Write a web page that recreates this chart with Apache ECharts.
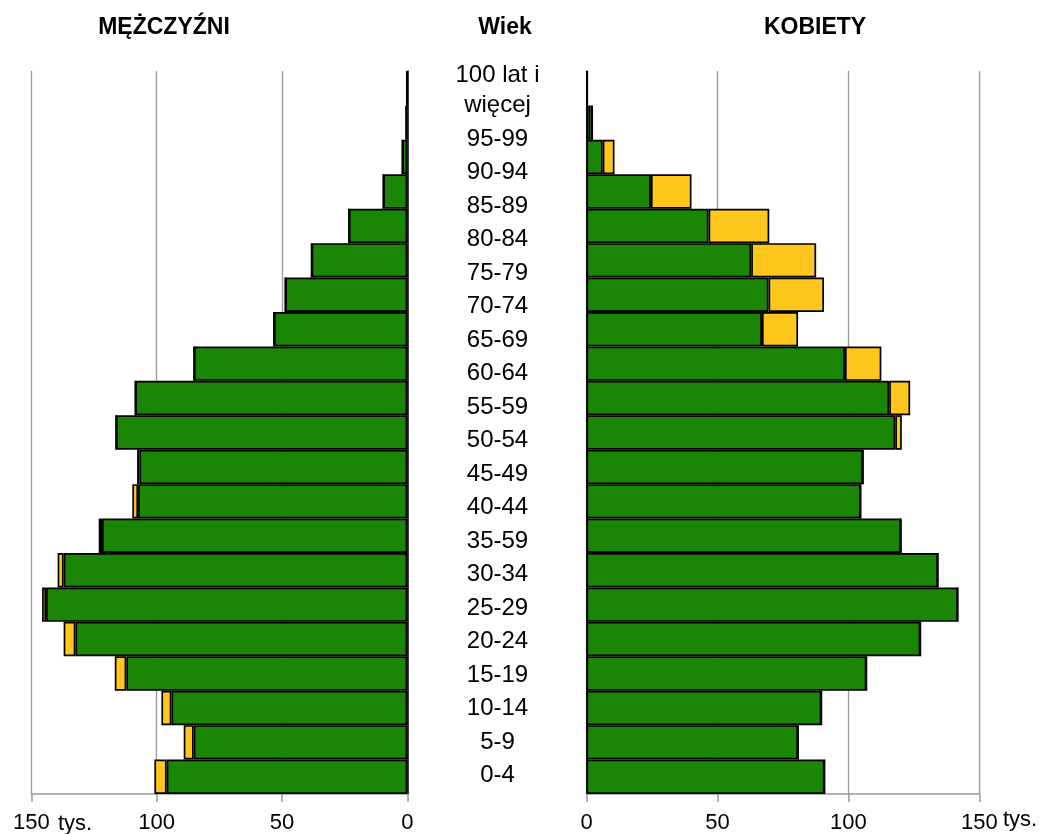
<!DOCTYPE html>
<html>
<head>
<meta charset="utf-8">
<script src="https://cdn.jsdelivr.net/npm/echarts/dist/echarts.min.js"></script>
<style>html,body{margin:0;padding:0;background:#fff}#c{width:1048px;height:834px}</style>
</head>
<body>
<div id="c"></div>
<script>
// Age groups, bottom to top (label "35-59" kept as printed in the source)
const categories = ['0-4','5-9','10-14','15-19','20-24','25-29','30-34','35-59','40-44','45-49','50-54','55-59','60-64','65-69','70-74','75-79','80-84','85-89','90-94','95-99','100 lat i\nwięcej'];
// Men (thousands): green part and yellow part
const menMain  = [96.0, 85.2, 94.1, 112.1, 132.4, 144.1, 137.1, 121.8, 107.4, 106.9, 116.2, 108.5, 85.1, 53.2, 48.7, 38.2, 23.3, 9.6, 2.0, 0.5, 0.2];
const menExtra = [4.9, 4.0, 4.0, 4.6, 4.7, 1.6, 2.4, 1.3, 2.3, 0.9, 0, 0, 0, 0, 0, 0, 0, 0, 0, 0, 0];
// Women (thousands): green part and yellow part
const womenMain  = [90.9, 80.8, 89.7, 106.9, 127.5, 141.8, 134.2, 120.1, 104.7, 105.6, 117.9, 115.6, 98.7, 67.0, 69.5, 62.9, 46.6, 24.6, 6.2, 1.5, 0.3];
const womenExtra = [0, 0, 0, 0, 0, 0, 0, 0, 0, 0, 2.5, 8.0, 13.9, 13.8, 21.2, 24.8, 23.2, 15.5, 4.5, 1.0, 0];
const tickValues = [0, 50, 100, 150];
const headers = ['MĘŻCZYŹNI', 'Wiek', 'KOBIETY'];
const unitLabel = 'tys.';

const GREEN = '#1b8505', YELLOW = '#ffc61e';
const FONT = '"Liberation Sans", Arial, sans-serif';

const chart = echarts.init(document.getElementById('c'), null, {renderer: 'canvas'});

const barStyle = c => ({color: c, borderColor: '#000', borderWidth: 1.7});
const valAxis = (gi, inverse) => ({
  type: 'value', gridIndex: gi, inverse: inverse,
  min: tickValues[0], max: tickValues[tickValues.length - 1], interval: tickValues[1] - tickValues[0],
  axisLine: {show: true, onZero: false, lineStyle: {color: '#999', width: 1.5}},
  axisTick: {show: true, length: 8, lineStyle: {color: '#999', width: 1.5}},
  axisLabel: {color: '#000', fontSize: 22, fontFamily: FONT, margin: 18},
  splitLine: {show: true, lineStyle: {color: '#999', width: 1.3}}
});
const catAxis = (gi, pos) => ({
  type: 'category', gridIndex: gi, data: categories, position: pos,
  axisLine: {show: true, onZero: false, lineStyle: {color: '#000', width: 1.5}},
  axisTick: {show: false}, axisLabel: {show: false}, splitLine: {show: false}
});

const textStyle = (size, weight) => ({fontSize: size, fontWeight: weight, fontFamily: FONT, fill: '#000'});
const headerX = [164, 505, 815];

chart.setOption({
  animation: false,
  backgroundColor: '#fff',
  grid: [
    {left: 31.3, top: 71, width: 376, height: 723},
    {left: 586.5, top: 71, width: 392.8, height: 723},
    {left: 497.5, top: 89, width: 1, height: 703.5}
  ],
  xAxis: [
    valAxis(0, true),
    valAxis(1, false),
    {type: 'value', gridIndex: 2, min: 0, max: 1, show: false}
  ],
  yAxis: [
    catAxis(0, 'right'),
    catAxis(1, 'left'),
    {
      type: 'category', gridIndex: 2, data: categories, position: 'left',
      axisLine: {show: false}, axisTick: {show: false}, splitLine: {show: false},
      axisLabel: {
        show: true, interval: 0, align: 'center', margin: 0, fontSize: 24, lineHeight: 30,
        color: '#000', fontFamily: FONT,
        formatter: v => (v.indexOf('\n') >= 0 ? v + '\n' : v)
      }
    }
  ],
  series: [
    {type: 'bar', xAxisIndex: 0, yAxisIndex: 0, stack: 'm', data: menMain, barWidth: '100%', itemStyle: barStyle(GREEN)},
    {type: 'bar', xAxisIndex: 0, yAxisIndex: 0, stack: 'm', data: menExtra, barWidth: '100%', itemStyle: barStyle(YELLOW)},
    {type: 'bar', xAxisIndex: 1, yAxisIndex: 1, stack: 'w', data: womenMain, barWidth: '100%', itemStyle: barStyle(GREEN)},
    {type: 'bar', xAxisIndex: 1, yAxisIndex: 1, stack: 'w', data: womenExtra, barWidth: '100%', itemStyle: barStyle(YELLOW)}
  ],
  graphic: headers.map((t, i) => ({
    type: 'text', x: headerX[i], y: 28,
    style: Object.assign({text: t, align: 'center', verticalAlign: 'middle', textAlign: 'center', textVerticalAlign: 'middle'}, textStyle(23, 'bold'))
  })).concat([
    {type: 'text', x: 58, y: 824, style: Object.assign({text: unitLabel, align: 'left', verticalAlign: 'middle', textAlign: 'left', textVerticalAlign: 'middle'}, textStyle(22, 'normal'))},
    {type: 'text', x: 1003, y: 820, style: Object.assign({text: unitLabel, align: 'left', verticalAlign: 'middle', textAlign: 'left', textVerticalAlign: 'middle'}, textStyle(22, 'normal'))}
  ])
});
</script>
</body>
</html>
